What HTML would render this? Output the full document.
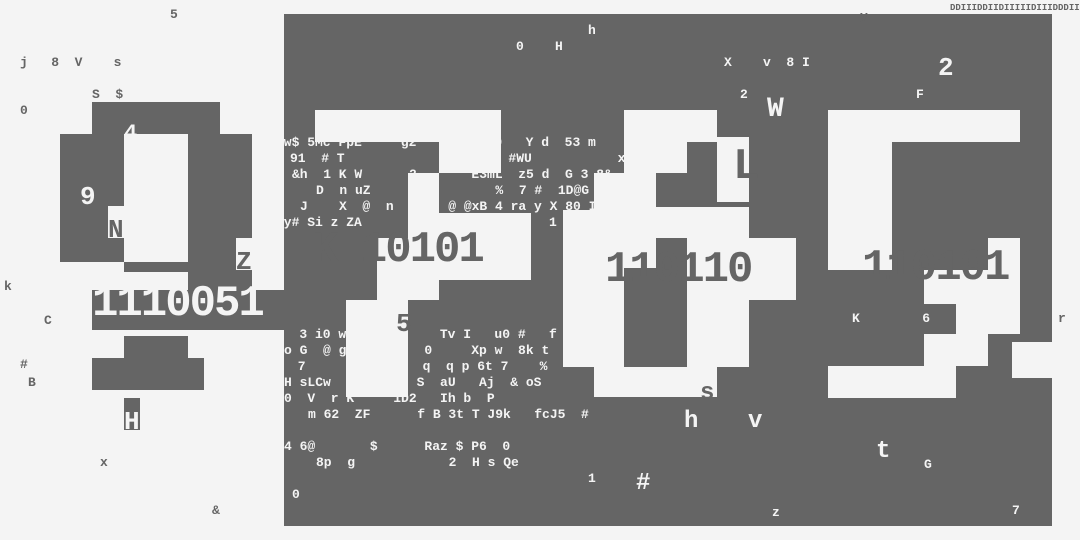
<!DOCTYPE html>
<html><head><style>
body{margin:0;width:1080px;height:540px;background:#f4f4f4;position:relative;overflow:hidden;font-family:"Liberation Mono",monospace;font-weight:bold}
.d,.l{position:absolute}
.d{background:#656565}
.l{background:#f4f4f4}
.t{position:absolute;font-size:13px;line-height:13px;white-space:pre}
.w{color:#f4f4f4}.k{color:#656565}
.big{position:absolute;font-size:44px;line-height:44px;letter-spacing:-2px;white-space:pre}
</style></head><body>
<div class="d" style="left:284px;top:14px;width:768px;height:512px"></div>
<div class="l" style="left:315px;top:110px;width:186px;height:32px"></div>
<div class="l" style="left:439px;top:142px;width:62px;height:31px"></div>
<div class="l" style="left:408px;top:173px;width:31px;height:127px"></div>
<div class="l" style="left:439px;top:213px;width:92px;height:67px"></div>
<div class="l" style="left:377px;top:238px;width:31px;height:62px"></div>
<div class="l" style="left:346px;top:300px;width:62px;height:97px"></div>
<div class="l" style="left:594px;top:173px;width:30px;height:37px"></div>
<div class="l" style="left:563px;top:210px;width:61px;height:157px"></div>
<div class="l" style="left:594px;top:367px;width:123px;height:30px"></div>
<div class="l" style="left:624px;top:110px;width:93px;height:32px"></div>
<div class="l" style="left:624px;top:142px;width:63px;height:31px"></div>
<div class="l" style="left:624px;top:173px;width:32px;height:34px"></div>
<div class="l" style="left:717px;top:137px;width:32px;height:65px"></div>
<div class="l" style="left:624px;top:207px;width:125px;height:31px"></div>
<div class="l" style="left:624px;top:238px;width:32px;height:30px"></div>
<div class="l" style="left:687px;top:238px;width:109px;height:62px"></div>
<div class="l" style="left:687px;top:300px;width:62px;height:67px"></div>
<div class="l" style="left:828px;top:110px;width:192px;height:32px"></div>
<div class="l" style="left:828px;top:142px;width:64px;height:128px"></div>
<div class="l" style="left:988px;top:238px;width:32px;height:96px"></div>
<div class="l" style="left:924px;top:270px;width:96px;height:34px"></div>
<div class="l" style="left:956px;top:304px;width:64px;height:30px"></div>
<div class="l" style="left:924px;top:334px;width:64px;height:32px"></div>
<div class="l" style="left:828px;top:366px;width:128px;height:32px"></div>
<div class="l" style="left:1012px;top:342px;width:40px;height:36px"></div>
<div class="d" style="left:92px;top:102px;width:128px;height:32px"></div>
<div class="d" style="left:60px;top:134px;width:192px;height:128px"></div>
<div class="l" style="left:124px;top:134px;width:64px;height:128px"></div>
<div class="l" style="left:108px;top:206px;width:16px;height:32px"></div>
<div class="d" style="left:124px;top:262px;width:64px;height:10px"></div>
<div class="d" style="left:188px;top:262px;width:64px;height:28px"></div>
<div class="l" style="left:236px;top:238px;width:16px;height:32px"></div>
<div class="d" style="left:92px;top:290px;width:192px;height:40px"></div>
<div class="d" style="left:124px;top:336px;width:64px;height:54px"></div>
<div class="d" style="left:92px;top:358px;width:32px;height:32px"></div>
<div class="d" style="left:188px;top:358px;width:16px;height:32px"></div>
<div class="d" style="left:124px;top:398px;width:16px;height:32px"></div>
<div class="big w" style="left:92px;top:282px">1110051</div>
<div class="big k" style="left:312px;top:228px">K 10101</div>
<div class="big k" style="left:605px;top:248px">110110</div>
<div class="big k" style="left:862px;top:246px">110101</div>
<div class="big k" style="left:733px;top:145px">L</div>
<div class="big w" style="left:767px;top:88px;font-size:28px">W</div>
<div class="big w" style="left:80px;top:175px;font-size:26px">9</div>
<div class="big k" style="left:108px;top:208px;font-size:26px">N</div>
<div class="big k" style="left:236px;top:240px;font-size:26px">Z</div>
<div class="big w" style="left:124px;top:400px;font-size:26px">H</div>
<div class="big w" style="left:124px;top:112px;font-size:22px">4</div>
<div class="big w" style="left:266px;top:52px;font-size:26px">g</div>
<div class="big w" style="left:938px;top:46px;font-size:26px">2</div>
<div class="big k" style="left:396px;top:302px;font-size:26px">5</div>
<div class="big w" style="left:684px;top:400px;font-size:24px">h</div>
<div class="big w" style="left:748px;top:400px;font-size:24px">v</div>
<div class="big w" style="left:876px;top:430px;font-size:24px">t</div>
<div class="big k" style="left:700px;top:372px;font-size:24px">s</div>
<div class="big w" style="left:636px;top:462px;font-size:24px">#</div>
<div class="t k" style="left:20px;top:56px">j   8  V    s</div>
<div class="t k" style="left:170px;top:8px">5</div>
<div class="t k" style="left:20px;top:104px">0</div>
<div class="t k" style="left:92px;top:88px">S  $</div>
<div class="t k" style="left:4px;top:280px">k</div>
<div class="t k" style="left:44px;top:314px">C</div>
<div class="t k" style="left:20px;top:358px">#</div>
<div class="t k" style="left:28px;top:376px">B</div>
<div class="t k" style="left:100px;top:456px">x</div>
<div class="t k" style="left:212px;top:504px">&amp;</div>
<div class="t w" style="left:276px;top:136px">Yw$ 5Mc FpE     g2       n j0   Y d  53 m</div>
<div class="t w" style="left:290px;top:152px">91  # T                @    #WU           x</div>
<div class="t w" style="left:292px;top:168px">&amp;h  1 K W      2       E3mL  z5 d  G 3 8&amp;</div>
<div class="t w" style="left:316px;top:184px">D  n uZ                %  7 #  1D@G  d</div>
<div class="t w" style="left:300px;top:200px">J    X  @  n    %  @ @xB 4 ra y X 80 I</div>
<div class="t w" style="left:276px;top:216px">by# Si z ZA       c  54            1 &amp;</div>
<div class="t w" style="left:276px;top:328px">e  3 i0 wb4    R     Tv I   u0 #   f  y  Ke$</div>
<div class="t w" style="left:284px;top:344px">o G  @ g          0     Xp w  8k t   i 1</div>
<div class="t w" style="left:290px;top:360px"> 7         a#y   q  q p 6t 7    %</div>
<div class="t w" style="left:284px;top:376px">H sLCw  6     N  S  aU   Aj  &amp; oS</div>
<div class="t w" style="left:284px;top:392px">0  V  r K     1D2   Ih b  P</div>
<div class="t w" style="left:308px;top:408px">m 62  ZF      f B 3t T J9k   fcJ5  #</div>
<div class="t w" style="left:284px;top:440px">4 6@       $      Raz $ P6  0</div>
<div class="t w" style="left:316px;top:456px">8p  g            2  H s Qe</div>
<div class="t w" style="left:292px;top:488px">0</div>
<div class="t w" style="left:516px;top:40px">0    H</div>
<div class="t w" style="left:588px;top:24px">h</div>
<div class="t w" style="left:724px;top:56px">X    v  8 I</div>
<div class="t w" style="left:740px;top:88px">2</div>
<div class="t w" style="left:916px;top:88px">F</div>
<div class="t k" style="left:860px;top:10px">y</div>
<div class="t w" style="left:852px;top:312px">K        6</div>
<div class="t w" style="left:924px;top:458px">G</div>
<div class="t w" style="left:772px;top:506px">z</div>
<div class="t w" style="left:1012px;top:504px">7</div>
<div class="t w" style="left:588px;top:472px">1</div>
<div class="t k" style="left:1058px;top:312px">r</div>
<div class="t k" style="left:950px;top:2px;font-size:9px">DDIIIDDIIDIIIIIDIIIDDDIIDIDI</div>
</body></html>
